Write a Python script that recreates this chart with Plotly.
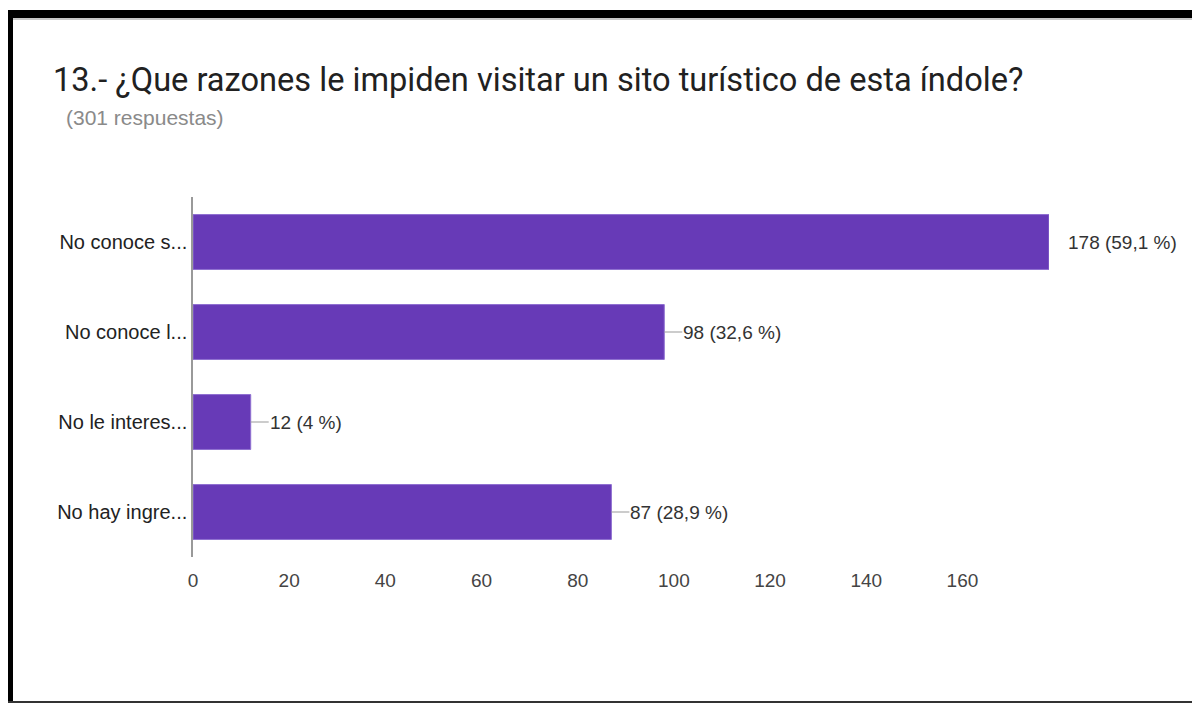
import plotly.graph_objects as go

# survey answers (Google Forms summary)
question = "13.- ¿Que razones le impiden visitar un sito turístico de esta índole?"
n_answers = 301
labels = ["No conoce s...", "No conoce l...", "No le interes...", "No hay ingre..."]
counts = [178, 98, 12, 87]
percents = ["59,1", "32,6", "4", "28,9"]
ticks = [0, 20, 40, 60, 80, 100, 120, 140, 160]

# the page body has an 8px margin, so the figure is drawn 8px in and down
OFF = 8
W, H = 1200 - OFF, 703 - OFF
L, T = 193 - OFF, 197 - OFF
pw, ph = 856, 360
R, B = W - L - pw, H - T - ph

FONT = "Liberation Sans, Arial, sans-serif"
TFONT = "Roboto, Liberation Sans, Arial, sans-serif"


def px(x):
    # screen pixel -> paper fraction
    return (x - OFF - L) / pw


def py(y):
    return (T + ph - (y - OFF)) / ph


bars = go.Bar(
    x=counts,
    y=labels,
    orientation="h",
    width=0.61,
    marker=dict(color="#673ab7", line=dict(color="#8e6fd0", width=1)),
    hoverinfo="x+y",
)

fig = go.Figure(data=[bars])

# value labels with a short leader line
for lab, c, p in zip(labels, counts, percents):
    txt = "%d (%s %%)" % (c, p)
    if c == max(counts):
        fig.add_annotation(x=c, y=lab, text=txt, showarrow=False,
                           xanchor="left", xshift=17,
                           font=dict(family=FONT, size=19, color="#333"))
    else:
        fig.add_annotation(x=c, y=lab, text=txt, showarrow=True,
                           arrowhead=0, arrowwidth=1.2, arrowcolor="#999",
                           ax=18, ay=0, xanchor="left", borderpad=0,
                           font=dict(family=FONT, size=19, color="#333"))

# subtitle
fig.add_annotation(xref="paper", yref="paper", x=px(64), y=py(118),
                   text="(%d respuestas)" % n_answers, showarrow=False,
                   xanchor="left", yanchor="middle",
                   font=dict(family=FONT, size=21, color="#8a8a8a"))

# frame of the screenshot
frame = [
    dict(x0=px(5), x1=px(13), y0=py(10), y1=py(703), fillcolor="black"),
    dict(x0=px(5), x1=px(1197), y0=py(10), y1=py(18), fillcolor="black"),
    dict(x0=px(13), x1=px(1195), y0=py(18), y1=py(20), fillcolor="#c8c8c8"),
    dict(x0=px(1195), x1=px(1197), y0=py(10), y1=py(703), fillcolor="black"),
    dict(x0=px(5), x1=px(1197), y0=py(701), y1=py(703), fillcolor="#333"),
]
for f in frame:
    fig.add_shape(type="rect", xref="paper", yref="paper", line_width=0,
                  layer="above", **f)

fig.update_layout(
    width=W,
    height=H,
    margin=dict(l=L, r=R, t=T, b=B, pad=0),
    paper_bgcolor="white",
    plot_bgcolor="white",
    showlegend=False,
    title=dict(text=question, xref="container", yref="container",
               x=(53 - OFF) / W, y=1 - (80 - OFF) / H,
               xanchor="left", yanchor="middle",
               font=dict(family=TFONT, size=32.6, color="#212121")),
    font=dict(family=FONT),
)

fig.update_xaxes(range=[0, 178], tickvals=ticks, showgrid=False, zeroline=False,
                 showline=False, ticks="", ticklabelstandoff=10,
                 tickfont=dict(family=FONT, size=19, color="#444"))
fig.update_yaxes(autorange="reversed", showgrid=False, zeroline=False,
                 showline=True, linecolor="#999", linewidth=1.5, ticks="",
                 ticklabelstandoff=0,
                 tickfont=dict(family=FONT, size=20, color="#222"))

fig.write_html("out.html")
